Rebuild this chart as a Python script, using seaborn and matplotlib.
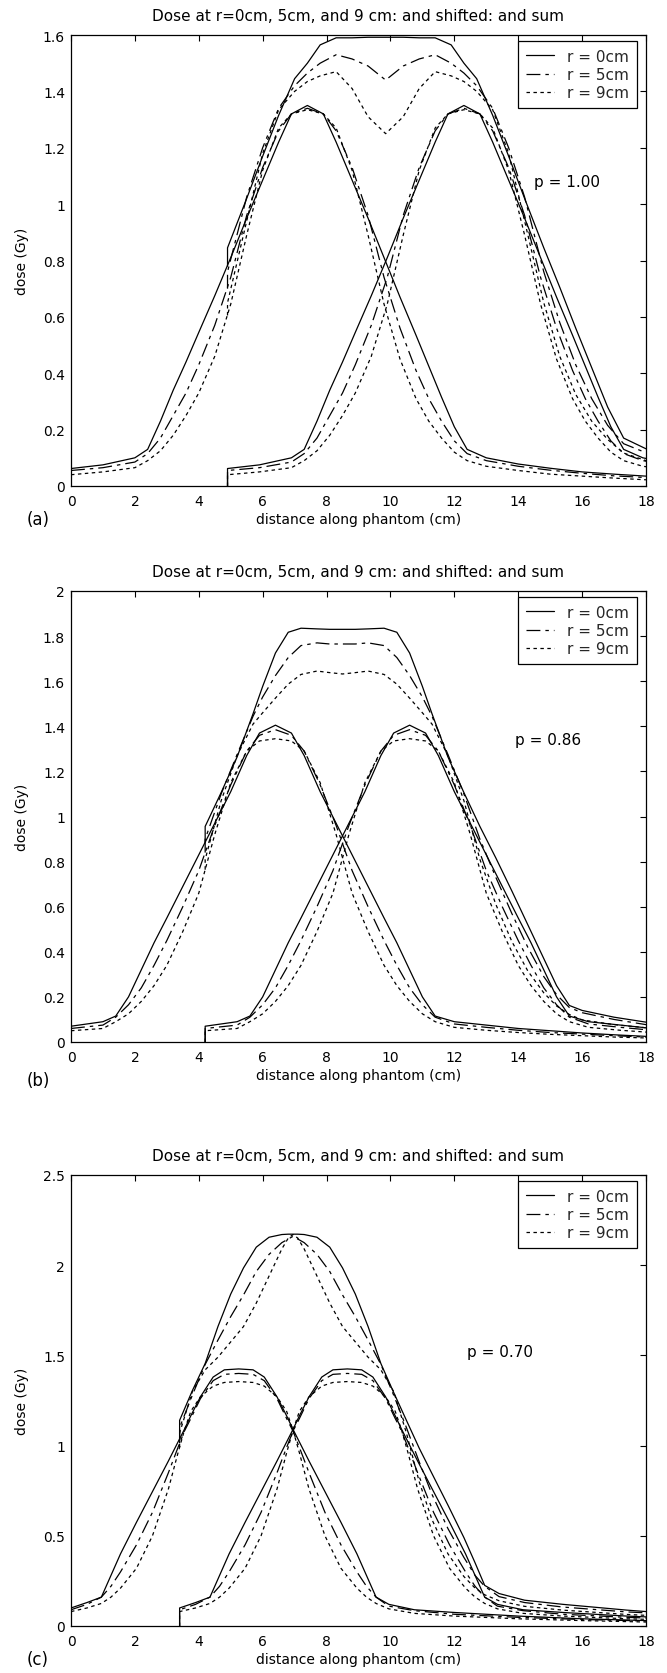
import numpy as np
import matplotlib
matplotlib.use("Agg")
import matplotlib.pyplot as plt
import seaborn as sns
from matplotlib.ticker import FuncFormatter, FixedLocator

# ---------------- data ----------------
title_text = "Dose at r=0cm, 5cm, and 9 cm: and shifted: and sum"
xlabel_text = "distance along phantom (cm)"
ylabel_text = "dose (Gy)"
radius_labels = ["r = 0cm", "r = 5cm", "r = 9cm"]
panel_tags = ["(a)", "(b)", "(c)"]
p_labels = ["p = 1.00", "p = 0.86", "p = 0.70"]
p_pos = [(14.5, 1.08), (13.9, 1.34), (12.4, 1.52)]

x_ticks = [0, 2, 4, 6, 8, 10, 12, 14, 16, 18]
y_ticks_a = [0, 0.2, 0.4, 0.6, 0.8, 1.0, 1.2, 1.4, 1.6]
y_ticks_b = [0, 0.2, 0.4, 0.6, 0.8, 1.0, 1.2, 1.4, 1.6, 1.8, 2.0]
y_ticks_c = [0, 0.5, 1.0, 1.5, 2.0, 2.5]

# panel (a)
shift_a = 4.9
base_x_a = [0, 1, 2, 2.4, 2.8, 3.2, 3.6, 4.0, 4.5, 5.0, 5.5, 6.0, 6.5, 6.9, 7.4, 7.9,
            8.3, 8.8, 9.3, 9.8, 10.3, 10.8, 11.2, 11.6, 12.0, 12.4, 13, 14, 15, 16, 17, 18]
base_a_r0 = [0.062, 0.075, 0.10, 0.13, 0.23, 0.34, 0.44, 0.545, 0.675, 0.81, 0.95, 1.085,
             1.22, 1.32, 1.35, 1.32, 1.22, 1.085, 0.95, 0.81, 0.67, 0.535, 0.425, 0.315,
             0.21, 0.13, 0.10, 0.078, 0.063, 0.05, 0.042, 0.035]
base_a_r5 = [0.055, 0.065, 0.085, 0.115, 0.17, 0.25, 0.33, 0.43, 0.57, 0.74, 0.96, 1.13,
             1.26, 1.32, 1.34, 1.32, 1.26, 1.13, 0.96, 0.74, 0.56, 0.41, 0.31, 0.23,
             0.16, 0.115, 0.09, 0.07, 0.056, 0.045, 0.036, 0.03]
base_a_r9 = [0.04, 0.05, 0.065, 0.09, 0.125, 0.18, 0.25, 0.33, 0.46, 0.645, 0.89, 1.12,
             1.27, 1.32, 1.335, 1.32, 1.27, 1.12, 0.89, 0.645, 0.45, 0.31, 0.23, 0.17,
             0.12, 0.09, 0.07, 0.055, 0.042, 0.035, 0.028, 0.022]
sum_x_a = [4.9, 4.9, 5.5, 6.0, 6.5, 7.0, 7.4, 7.8, 8.3, 8.8, 9.3, 9.85, 10.4, 10.9, 11.4,
           11.9, 12.3, 12.7, 13.2, 13.7, 14.2, 14.8, 15.3, 15.8, 16.3, 16.8, 17.3, 18]
sum_a_r0 = [0.78, 0.845, 1.02, 1.17, 1.315, 1.445, 1.50, 1.565, 1.59, 1.59, 1.592, 1.592,
            1.592, 1.59, 1.59, 1.565, 1.50, 1.445, 1.315, 1.17, 1.02, 0.845, 0.705, 0.56,
            0.42, 0.28, 0.17, 0.132]
sum_a_r5 = [0.70, 0.76, 1.025, 1.20, 1.34, 1.42, 1.465, 1.50, 1.53, 1.515, 1.49, 1.44,
            1.49, 1.515, 1.53, 1.50, 1.465, 1.42, 1.34, 1.20, 1.025, 0.76, 0.58, 0.43,
            0.31, 0.215, 0.15, 0.118]
sum_a_r9 = [0.605, 0.65, 0.94, 1.18, 1.335, 1.40, 1.435, 1.455, 1.47, 1.41, 1.31, 1.25,
            1.31, 1.41, 1.47, 1.455, 1.435, 1.40, 1.335, 1.18, 0.94, 0.65, 0.46, 0.325,
            0.23, 0.165, 0.117, 0.09]

# panel (b)
shift_b = 4.2
base_x_b = [0, 1, 1.4, 1.8, 2.2, 2.6, 3.0, 3.5, 4.0, 4.5, 5.0, 5.5, 5.9, 6.4, 6.9, 7.3,
            7.8, 8.3, 8.8, 9.3, 9.8, 10.2, 10.6, 11.0, 11.4, 12, 13, 14, 15, 16, 17, 18]
base_b_r0 = [0.07, 0.09, 0.115, 0.20, 0.32, 0.44, 0.55, 0.69, 0.83, 0.97, 1.11, 1.27,
             1.37, 1.405, 1.37, 1.27, 1.11, 0.97, 0.83, 0.69, 0.55, 0.44, 0.32, 0.20,
             0.115, 0.09, 0.075, 0.06, 0.05, 0.04, 0.032, 0.025]
base_b_r5 = [0.06, 0.075, 0.11, 0.165, 0.24, 0.34, 0.45, 0.60, 0.76, 0.96, 1.14, 1.29,
             1.36, 1.385, 1.36, 1.29, 1.14, 0.96, 0.76, 0.60, 0.45, 0.34, 0.24, 0.165,
             0.11, 0.08, 0.065, 0.052, 0.042, 0.035, 0.028, 0.022]
base_b_r9 = [0.05, 0.06, 0.09, 0.125, 0.18, 0.25, 0.34, 0.49, 0.66, 0.92, 1.15, 1.29,
             1.335, 1.345, 1.335, 1.29, 1.15, 0.92, 0.66, 0.49, 0.34, 0.25, 0.18, 0.125,
             0.09, 0.065, 0.052, 0.042, 0.034, 0.028, 0.022, 0.018]
sum_x_b = [4.2, 4.2, 4.7, 5.2, 5.7, 6.0, 6.4, 6.8, 7.2, 7.7, 8.1, 8.5, 8.9, 9.3, 9.8, 10.2,
           10.6, 11.0, 11.3, 11.8, 12.3, 12.8, 13.3, 13.8, 14.3, 14.8, 15.2, 15.6, 16, 17, 18]
sum_b_r0 = [0.886, 0.956, 1.106, 1.264, 1.456, 1.577, 1.725, 1.817, 1.835, 1.832, 1.83,
            1.83, 1.83, 1.832, 1.835, 1.817, 1.725, 1.577, 1.456, 1.264, 1.106, 0.956,
            0.816, 0.67, 0.52, 0.37, 0.25, 0.162, 0.14, 0.11, 0.088]
sum_b_r5 = [0.84, 0.90, 1.10, 1.275, 1.445, 1.53, 1.625, 1.705, 1.758, 1.77, 1.765, 1.765,
            1.765, 1.77, 1.758, 1.705, 1.625, 1.53, 1.445, 1.275, 1.10, 0.90, 0.73, 0.57,
            0.42, 0.29, 0.21, 0.153, 0.13, 0.10, 0.077]
sum_b_r9 = [0.764, 0.81, 1.07, 1.27, 1.41, 1.46, 1.525, 1.587, 1.63, 1.645, 1.638, 1.632,
            1.638, 1.645, 1.63, 1.587, 1.525, 1.46, 1.41, 1.27, 1.07, 0.81, 0.61, 0.446,
            0.315, 0.218, 0.16, 0.122, 0.098, 0.077, 0.063]

# panel (c)
shift_c = 3.4
base_x_c = [0.0, 0.5, 0.95, 1.25, 1.55, 2.05, 2.55, 3.05, 3.35, 3.55, 3.75, 4.05, 4.45,
            4.8, 5.25, 5.7, 6.05, 6.45, 6.75, 6.95, 7.15, 7.45, 7.95, 8.45, 8.95, 9.25,
            9.55, 9.95, 10.75, 12, 14, 16, 18]
base_c_r0 = [0.10, 0.13, 0.16, 0.28, 0.40, 0.575, 0.745, 0.915, 1.02, 1.09, 1.165, 1.27,
             1.38, 1.42, 1.425, 1.42, 1.38, 1.27, 1.165, 1.09, 1.02, 0.915, 0.745, 0.575,
             0.40, 0.28, 0.16, 0.12, 0.09, 0.075, 0.055, 0.04, 0.03]
base_c_r5 = [0.09, 0.12, 0.16, 0.22, 0.30, 0.45, 0.63, 0.85, 0.99, 1.08, 1.15, 1.26,
             1.36, 1.395, 1.40, 1.395, 1.36, 1.26, 1.15, 1.08, 0.99, 0.85, 0.63, 0.45,
             0.30, 0.22, 0.16, 0.11, 0.085, 0.065, 0.048, 0.036, 0.028]
base_c_r9 = [0.08, 0.10, 0.125, 0.16, 0.21, 0.32, 0.50, 0.76, 0.96, 1.085, 1.19, 1.27,
             1.33, 1.35, 1.355, 1.35, 1.33, 1.27, 1.19, 1.085, 0.96, 0.76, 0.50, 0.32,
             0.21, 0.16, 0.125, 0.095, 0.07, 0.055, 0.04, 0.03, 0.022]
sum_x_c = [3.4, 3.4, 3.8, 4.2, 4.6, 5.0, 5.4, 5.8, 6.2, 6.6, 6.8, 6.95, 7.1, 7.3, 7.7, 8.1,
           8.5, 8.9, 9.3, 9.7, 10.1, 10.5, 10.9, 11.3, 11.8, 12.3, 12.65, 12.95, 13.4,
           14.2, 15.4, 17.4, 18]
sum_c_r0 = [1.037, 1.14, 1.305, 1.455, 1.66, 1.84, 1.985, 2.10, 2.155, 2.17, 2.172, 2.172,
            2.172, 2.17, 2.155, 2.10, 1.985, 1.84, 1.66, 1.455, 1.295, 1.14, 0.986, 0.845,
            0.67, 0.49, 0.35, 0.225, 0.18, 0.143, 0.12, 0.088, 0.08]
sum_c_r5 = [1.0125, 1.10, 1.28, 1.45, 1.585, 1.715, 1.835, 1.965, 2.06, 2.125, 2.145, 2.16,
            2.145, 2.125, 2.06, 1.965, 1.835, 1.715, 1.585, 1.45, 1.28, 1.10, 0.91, 0.73,
            0.54, 0.38, 0.28, 0.22, 0.163, 0.13, 0.105, 0.078, 0.073]
sum_c_r9 = [0.99, 1.07, 1.30, 1.42, 1.49, 1.575, 1.66, 1.79, 1.94, 2.09, 2.15, 2.17,
            2.15, 2.09, 1.94, 1.79, 1.66, 1.575, 1.49, 1.42, 1.30, 1.07, 0.80, 0.59,
            0.40, 0.274, 0.21, 0.173, 0.14, 0.109, 0.088, 0.064, 0.059]

panels = [
    dict(shift=shift_a, bx=base_x_a, base=[base_a_r0, base_a_r5, base_a_r9],
         sx=sum_x_a, sums=[sum_a_r0, sum_a_r5, sum_a_r9], yticks=y_ticks_a, ymax=1.6),
    dict(shift=shift_b, bx=base_x_b, base=[base_b_r0, base_b_r5, base_b_r9],
         sx=sum_x_b, sums=[sum_b_r0, sum_b_r5, sum_b_r9], yticks=y_ticks_b, ymax=2.0),
    dict(shift=shift_c, bx=base_x_c, base=[base_c_r0, base_c_r5, base_c_r9],
         sx=sum_x_c, sums=[sum_c_r0, sum_c_r5, sum_c_r9], yticks=y_ticks_c, ymax=2.5),
]

# ---------------- style ----------------
sns.set_style("white")
plt.rcParams["font.family"] = ["DejaVu Sans"]
plt.rcParams["lines.scale_dashes"] = False
line_styles = ["-", (0, (10, 3.6, 2.5, 3.6)), (0, (2.5, 2.5))]
LW = 0.9

W, H = 667, 1674
fig = plt.figure(figsize=(W / 100, H / 100), dpi=100)
ax_left, ax_w, ax_h = 71, 575, 451
ax_tops = [36, 592, 1176]
tag_y = [520, 1081, 1660]

fmt = FuncFormatter(lambda v, pos: f"{v:g}")

for i, pnl in enumerate(panels):
    top = ax_tops[i]
    ax = fig.add_axes([ax_left / W, 1 - (top + ax_h) / H, ax_w / W, ax_h / H])
    bx = np.asarray(pnl["bx"], dtype=float)
    for k in range(3):
        by = np.asarray(pnl["base"][k], dtype=float)
        ls = line_styles[k]
        # original profile
        sns.lineplot(x=bx, y=by, ax=ax, color="black", lw=LW, linestyle=ls,
                     sort=False, estimator=None, label=radius_labels[k])
        # shifted profile (starts at zero at the shift position)
        shx = np.concatenate([[pnl["shift"]], bx + pnl["shift"]])
        shy = np.concatenate([[0.0], by])
        sns.lineplot(x=shx, y=shy, ax=ax, color="black", lw=LW, linestyle=ls,
                     sort=False, estimator=None)
        # sum of both
        sns.lineplot(x=pnl["sx"], y=pnl["sums"][k], ax=ax, color="black", lw=LW,
                     linestyle=ls, sort=False, estimator=None)

    ax.set_xlim(0, 18)
    ax.set_ylim(0, pnl["ymax"])
    ax.xaxis.set_major_locator(FixedLocator(x_ticks))
    ax.yaxis.set_major_locator(FixedLocator(pnl["yticks"]))
    ax.xaxis.set_major_formatter(fmt)
    ax.yaxis.set_major_formatter(fmt)
    ax.tick_params(axis="both", direction="in", length=4.3, width=0.8,
                   top=True, right=True, labelsize=10, colors="black")
    ax.tick_params(axis="y", pad=4.3)
    ax.tick_params(axis="x", pad=5.5)
    for sp in ax.spines.values():
        sp.set_color("black")
        sp.set_linewidth(0.9)
        sp.set_visible(True)

    ax.set_title(title_text, fontsize=11, pad=10.8, color="black")
    ax.set_xlabel(xlabel_text, fontsize=10, color="black")
    ax.set_ylabel(ylabel_text, fontsize=10, color="black")
    ax.xaxis.set_label_coords(0.5, -0.058)
    ax.yaxis.set_label_coords(-0.073, 0.5)

    ax.text(p_pos[i][0], p_pos[i][1], p_labels[i], fontsize=11, ha="left",
            va="center", color="black")

    leg = ax.legend(loc="upper right", bbox_to_anchor=(1 - 9 / ax_w, 1 - 6 / ax_h),
                    borderaxespad=0, fontsize=11, frameon=True, fancybox=False,
                    framealpha=1, edgecolor="black", handlelength=1.85,
                    handletextpad=0.85, labelspacing=0.22, borderpad=0.5)
    leg.get_frame().set_linewidth(0.9)

    fig.text(27 / W, 1 - tag_y[i] / H, panel_tags[i], fontsize=12, ha="left",
             va="center", color="black")

fig.savefig("out.png", dpi=100, facecolor="white")
